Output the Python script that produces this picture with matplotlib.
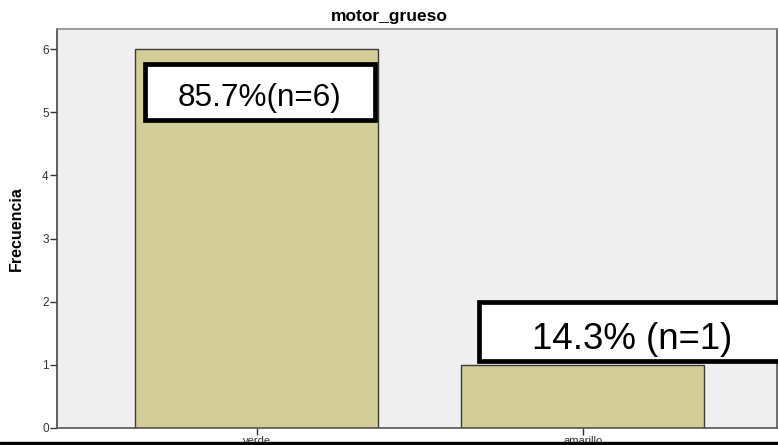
import matplotlib
matplotlib.use('Agg')
import matplotlib.pyplot as plt
from matplotlib.patches import Rectangle

# datos
categorias = ['verde', 'amarillo']
frecuencias = [6, 1]
etiquetas = ['85.7%(n=6)', '14.3% (n=1)']
titulo = 'motor_grueso'
eje_y = 'Frecuencia'

plt.rcParams['font.family'] = ['Liberation Sans', 'DejaVu Sans']

fig = plt.figure(figsize=(7.78, 4.45), dpi=100)
ax = fig.add_axes([57 / 778, 17 / 445, 720 / 778, 399 / 445])
ax.set_facecolor('#efefef')

x = list(range(len(categorias)))
ax.bar(x, frecuencias, width=0.745, color='#d3ce98', edgecolor='#3a3a3a', linewidth=1.0, zorder=2)

ax.set_xlim(-0.613, 1.596)
ax.set_ylim(0, 6.32)
ax.set_xticks(x)
ax.set_xticklabels(categorias, fontsize=8, color='#333333')
ax.set_yticks(range(0, 7))
ax.tick_params(axis='y', direction='out', length=5, width=1, color='#333333', labelsize=8.5, labelcolor='#333333', pad=1)
ax.tick_params(axis='x', direction='out', length=5, width=1, color='#333333', pad=1)

for lado, col in [('left', '#444444'), ('bottom', '#555555'), ('top', '#8a8a8a'), ('right', '#555555')]:
    ax.spines[lado].set_color(col)
    ax.spines[lado].set_linewidth(1.2)

ax.set_ylabel(eje_y, fontsize=11.5, fontweight='bold', labelpad=13)
fig.text(389 / 778, 1 - 21 / 445, titulo, ha='center', va='baseline', fontsize=12.5, fontweight='bold')

# cuadros de porcentaje
cajas = [(-0.343, 0.364, 4.878, 5.771), (-0.318, 1.95, 1.065, 1.989)]
textos = [(0.009, 5.10, 22.7), (0.150, 1.25, 26.4)]
for i, (x0, x1, y0, y1) in enumerate(cajas):
    ax.add_patch(Rectangle((x[i] + x0, y0), x1 - x0, y1 - y0, facecolor='white',
                           edgecolor='black', linewidth=3.4, zorder=5, clip_on=False))
    tx, ty, fs = textos[i]
    ax.text(x[i] + tx, ty, etiquetas[i], ha='center', va='baseline', fontsize=fs, zorder=6)

# franja negra inferior
fig.add_artist(Rectangle((0, 0), 1, 3.5 / 445, transform=fig.transFigure, color='black', zorder=10))

fig.savefig('out.png', dpi=100)
